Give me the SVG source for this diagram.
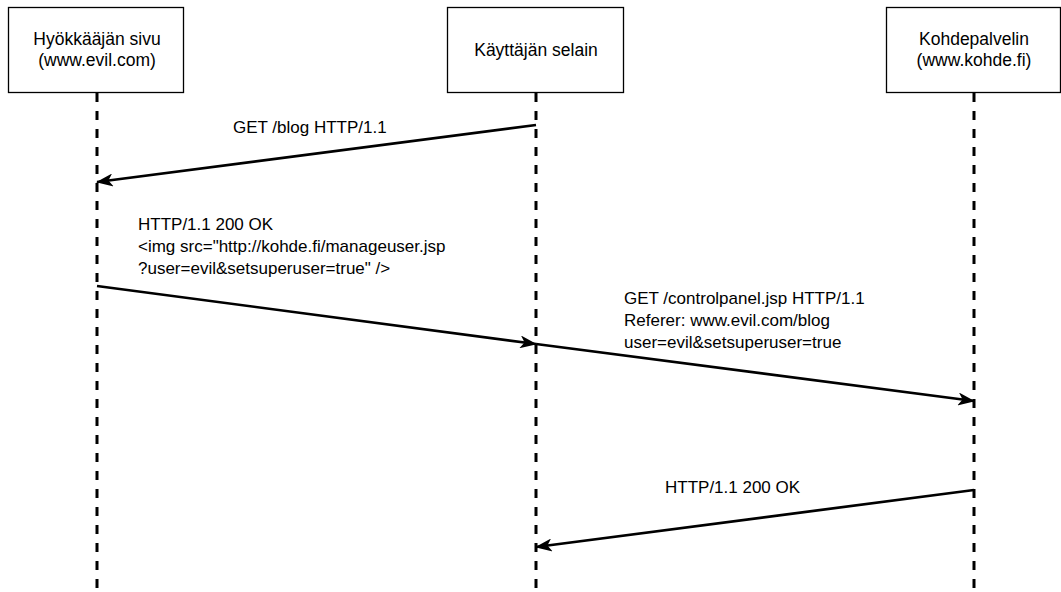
<svg xmlns="http://www.w3.org/2000/svg" width="1061" height="592" viewBox="0 0 1061 592">
  <style>
    .box { fill: #ffffff; stroke: #000000; stroke-width: 1.3; }
    .life { stroke: #000000; stroke-width: 3; stroke-dasharray: 9 9; fill: none; }
    .msg { stroke: #000000; stroke-width: 2.7; fill: none; marker-end: url(#head); }
    .t { font-family: "Liberation Sans", Arial, Helvetica, sans-serif; fill: #000000; }
    .bt { font-size: 17.5px; text-anchor: middle; }
    .mt { font-size: 17px; }
  </style>
  <defs>
    <marker id="head" markerUnits="userSpaceOnUse" viewBox="0 0 17 13" refX="16" refY="6.5" markerWidth="17" markerHeight="13" orient="auto">
      <path d="M0,0 L17,6.5 L0,13 L4.5,6.5 Z" fill="#000000"/>
    </marker>
  </defs>

  <rect width="1061" height="592" fill="#ffffff"/>

  <!-- lifelines -->
  <g id="lifelines">
    <line class="life" x1="97" y1="93" x2="97" y2="592"/>
    <line class="life" x1="536" y1="93" x2="536" y2="592"/>
    <line class="life" x1="974" y1="93" x2="974" y2="592"/>
  </g>

  <!-- participants -->
  <g id="attacker">
    <rect class="box" x="8.5" y="7.5" width="175" height="85"/>
    <text class="t bt" x="97" y="45">Hyökkääjän sivu</text>
    <text class="t bt" x="97" y="66">(www.evil.com)</text>
  </g>
  <g id="browser">
    <rect class="box" x="447.5" y="7.5" width="176" height="85"/>
    <text class="t bt" x="536" y="56">Käyttäjän selain</text>
  </g>
  <g id="target">
    <rect class="box" x="886.5" y="7.5" width="174" height="85"/>
    <text class="t bt" x="974" y="45">Kohdepalvelin</text>
    <text class="t bt" x="974" y="66">(www.kohde.fi)</text>
  </g>

  <!-- messages -->
  <g id="connectors">
    <line class="msg" x1="536" y1="125" x2="97" y2="182"/>
    <line class="msg" x1="97" y1="286" x2="536" y2="344"/>
    <line class="msg" x1="536" y1="344" x2="974" y2="401"/>
    <line class="msg" x1="974" y1="490" x2="536" y2="547"/>
  </g>

  <g id="labels">
    <text class="t mt" x="233" y="133">GET /blog HTTP/1.1</text>
    <text class="t mt" x="138" y="230">HTTP/1.1 200 OK</text>
    <text class="t mt" x="138" y="252">&lt;img src="http://kohde.fi/manageuser.jsp</text>
    <text class="t mt" x="138" y="274">?user=evil&amp;setsuperuser=true" /&gt;</text>
    <text class="t mt" x="624" y="304">GET /controlpanel.jsp HTTP/1.1</text>
    <text class="t mt" x="624" y="326">Referer: www.evil.com/blog</text>
    <text class="t mt" x="624" y="348">user=evil&amp;setsuperuser=true</text>
    <text class="t mt" x="665" y="493">HTTP/1.1 200 OK</text>
  </g>
</svg>
